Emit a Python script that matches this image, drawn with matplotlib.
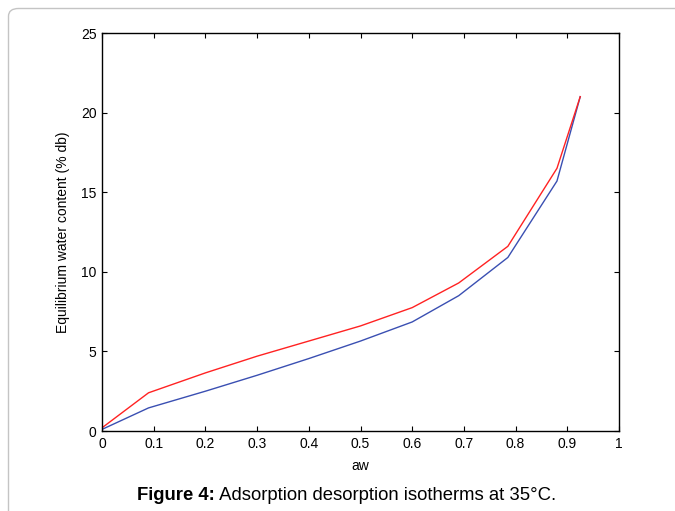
import numpy as np
import matplotlib
matplotlib.use('Agg')
import matplotlib.pyplot as plt
from matplotlib.patches import FancyBboxPatch

plt.rcParams['font.family'] = ['Liberation Sans', 'DejaVu Sans']

# water activity and equilibrium moisture content (% db)
aw = [0, 0.09, 0.2, 0.3, 0.4, 0.5, 0.6, 0.69, 0.785, 0.88, 0.925]
desorption = [0.2, 2.4, 3.65, 4.7, 5.65, 6.6, 7.75, 9.3, 11.6, 16.5, 21.0]
adsorption = [0.1, 1.45, 2.5, 3.5, 4.55, 5.65, 6.85, 8.5, 10.9, 15.7, 21.0]

xticks = [0, 0.1, 0.2, 0.3, 0.4, 0.5, 0.6, 0.7, 0.8, 0.9, 1]
xticklabels = ['0', '0.1', '0.2', '0.3', '0.4', '0.5', '0.6', '0.7', '0.8', '0.9', '1']
yticks = [0, 5, 10, 15, 20, 25]

W, H = 675, 511
fig = plt.figure(figsize=(W / 100, H / 100), dpi=100)

# light rounded frame around the figure (open to the right and bottom)
frame = FancyBboxPatch((8.5 / W, -0.1), 1.2, 1.1 - 8.5 / H,
                       boxstyle='round,pad=0,rounding_size=0.015',
                       transform=fig.transFigure, fill=False,
                       edgecolor='#c4c4c4', linewidth=1.0, clip_on=False)
fig.patches.append(frame)

ax = fig.add_axes([102 / W, 1 - 431 / H, (619 - 102) / W, (431 - 33) / H])

ax.plot(aw, adsorption, color='#3a4fb2', linewidth=1.0)
ax.plot(aw, desorption, color='#ff2222', linewidth=1.0)

ax.set_xlim(0, 1)
ax.set_ylim(0, 25)
ax.set_xticks(xticks)
ax.set_xticklabels(xticklabels)
ax.set_yticks(yticks)
ax.tick_params(direction='in', top=True, right=True, length=3.5, width=0.8,
               labelsize=10, pad=4)
for s in ax.spines.values():
    s.set_linewidth(1.0)

ax.set_xlabel('aw', fontsize=10, labelpad=6)
ax.set_ylabel('Equilibrium water content (% db)', fontsize=10, labelpad=8)

# caption: bold label followed by regular text, centred as a whole
cy = 1 - 495 / H
t1 = fig.text(0, cy, 'Figure 4:', fontweight='bold', fontsize=13.3,
              ha='left', va='center')
t2 = fig.text(0, cy, ' Adsorption desorption isotherms at 35°C.', fontsize=13.3,
              ha='left', va='center')
fig.canvas.draw()
r = fig.canvas.get_renderer()
w1 = t1.get_window_extent(r).width
w2 = t2.get_window_extent(r).width
x0 = 346.5 - (w1 + w2) / 2
t1.set_x(x0 / W)
t2.set_x((x0 + w1) / W)

fig.savefig('out.png', dpi=100)
